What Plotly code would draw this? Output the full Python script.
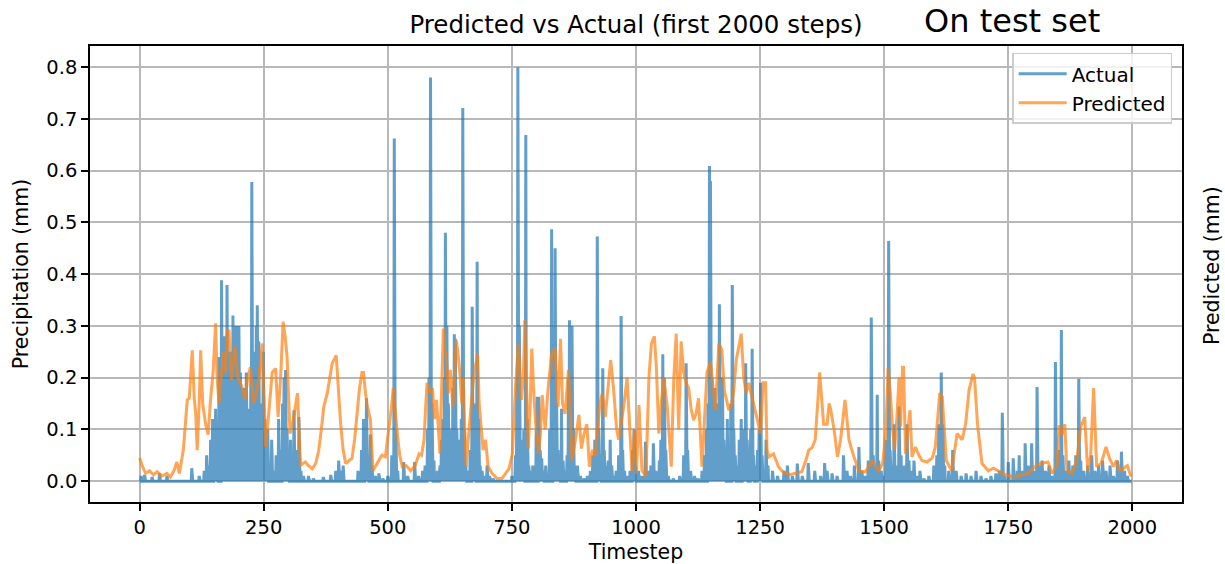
import numpy as np
import plotly.graph_objects as go

# ---------------- data ----------------
N_STEPS = 2000

# Actual precipitation: spike positions (timestep) and heights; baseline is 0
actual_t = [3, 10, 25, 40, 55, 105, 120, 130, 135, 140, 143, 147, 150, 153, 156, 160, 162, 165, 168, 171,
            174, 176, 179, 182, 185, 188, 191, 194, 197, 200, 203, 206, 209, 212, 215, 218, 221, 224, 226, 229,
            232, 235, 237, 240, 243, 246, 249, 252, 255, 258, 262, 266, 270, 275, 280, 284, 288, 291, 294, 297,
            300, 304, 308, 311, 315, 318, 321, 325, 330, 340, 350, 370, 385, 395, 401, 405, 410,
            440, 447, 451, 454, 457, 460, 465, 468, 475, 482, 490, 500, 508, 513, 516, 520, 532, 540, 554, 562,
            570, 575, 580, 583, 586, 589, 593, 600, 605, 608, 611, 614, 616, 619, 622, 625, 628, 631, 634, 636,
            639, 642, 645, 648, 651, 654, 657, 662, 666, 670, 673, 676, 680, 683, 686, 690, 695, 700, 705, 712,
            750, 757, 760, 762, 765, 768, 771, 774, 778, 781, 784, 788, 792, 795, 799, 801, 804, 807, 810, 813,
            818, 822, 826, 830, 833, 835, 837, 840, 843, 846, 850, 853, 857, 861, 864, 866, 869, 871, 874, 877,
            882, 888, 895, 902, 908, 913, 917, 922, 925, 928, 933, 936, 940, 944, 948, 951, 955, 960, 965, 970,
            973, 977, 982, 988, 993, 996, 999,
            1005, 1012, 1019, 1024, 1030, 1035, 1040, 1047, 1050, 1054, 1057, 1060, 1065, 1075, 1088, 1096, 1101,
            1104, 1110, 1118, 1125, 1133, 1138, 1142, 1145, 1148, 1150, 1153, 1156, 1159, 1162, 1165, 1168, 1171,
            1174, 1177, 1180, 1184, 1187, 1191, 1194, 1197, 1200, 1204, 1208, 1212, 1215, 1218, 1221, 1224, 1228,
            1231, 1234, 1237, 1241, 1245, 1248, 1251, 1254, 1258, 1262, 1266,
            1275, 1285, 1298, 1305, 1315, 1325, 1335, 1347, 1360, 1372, 1380, 1385, 1395, 1405, 1418, 1425, 1432,
            1440, 1449, 1455, 1462, 1468, 1474, 1478, 1482, 1486, 1489, 1494, 1500, 1504, 1509, 1512, 1516, 1520,
            1524, 1530, 1534, 1540, 1546, 1550, 1555, 1560, 1566, 1572, 1580, 1590, 1600, 1606, 1610, 1615, 1618,
            1622, 1630, 1638, 1645, 1655, 1665, 1675, 1685, 1695, 1705, 1715, 1725, 1732, 1738, 1742, 1750, 1760,
            1768, 1772, 1778, 1784, 1790, 1797, 1802, 1808, 1812, 1818, 1825, 1832, 1838, 1845, 1849, 1853, 1857,
            1860, 1866, 1872, 1880, 1886, 1892, 1896, 1902, 1910, 1918, 1925, 1932, 1940, 1947, 1955, 1962, 1970,
            1978, 1984, 1990]
actual_v = [0.01, 0.012, 0.008, 0.015, 0.01, 0.025, 0.01, 0.02, 0.05, 0.03, 0.08, 0.12, 0.06, 0.14, 0.10, 0.24, 0.15, 0.388, 0.20, 0.28,
            0.12, 0.379, 0.18, 0.25, 0.10, 0.32, 0.20, 0.30, 0.15, 0.30, 0.21, 0.12, 0.18, 0.08, 0.21, 0.14, 0.05, 0.20, 0.578, 0.25,
            0.10, 0.30, 0.34, 0.27, 0.15, 0.08, 0.25, 0.12, 0.05, 0.10, 0.03, 0.08, 0.02, 0.05, 0.12, 0.06, 0.15, 0.20, 0.215, 0.10,
            0.05, 0.08, 0.02, 0.137, 0.06, 0.03, 0.124, 0.02, 0.01, 0.01, 0.005, 0.008, 0.012, 0.02, 0.04, 0.02, 0.03,
            0.02, 0.06, 0.12, 0.08, 0.16, 0.05, 0.09, 0.03, 0.01, 0.015, 0.005, 0.01, 0.05, 0.662, 0.10, 0.02, 0.037, 0.01, 0.037, 0.01,
            0.02, 0.03, 0.10, 0.20, 0.78, 0.15, 0.04, 0.02, 0.03, 0.08, 0.12, 0.20, 0.48, 0.30, 0.15, 0.10, 0.04, 0.18, 0.284, 0.275,
            0.10, 0.05, 0.08, 0.12, 0.721, 0.10, 0.03, 0.02, 0.06, 0.337, 0.10, 0.15, 0.424, 0.12, 0.03, 0.02, 0.01, 0.03, 0.01, 0.005,
            0.01, 0.05, 0.20, 0.80, 0.30, 0.08, 0.04, 0.10, 0.669, 0.12, 0.03, 0.02, 0.03, 0.02, 0.10, 0.163, 0.163, 0.06, 0.044, 0.02,
            0.03, 0.01, 0.10, 0.487, 0.20, 0.30, 0.45, 0.15, 0.06, 0.03, 0.14, 0.04, 0.02, 0.05, 0.20, 0.311, 0.20, 0.30, 0.10, 0.03,
            0.03, 0.01, 0.005, 0.01, 0.02, 0.05, 0.08, 0.473, 0.10, 0.05, 0.218, 0.06, 0.03, 0.04, 0.08, 0.03, 0.01, 0.02, 0.05, 0.319,
            0.06, 0.02, 0.01, 0.02, 0.06, 0.10, 0.03,
            0.02, 0.01, 0.076, 0.02, 0.03, 0.073, 0.02, 0.04, 0.08, 0.245, 0.20, 0.06, 0.01, 0.005, 0.01, 0.05, 0.228,
            0.06, 0.02, 0.01, 0.005, 0.02, 0.05, 0.10, 0.15, 0.609, 0.58, 0.20, 0.12, 0.18, 0.08, 0.15, 0.342, 0.12,
            0.20, 0.08, 0.05, 0.12, 0.06, 0.15, 0.379, 0.10, 0.05, 0.03, 0.08, 0.12, 0.05, 0.10, 0.228, 0.08, 0.03,
            0.10, 0.256, 0.05, 0.03, 0.06, 0.10, 0.19, 0.05, 0.02, 0.08, 0.03,
            0.02, 0.01, 0.02, 0.03, 0.01, 0.034, 0.01, 0.035, 0.02, 0.01, 0.035, 0.02, 0.015, 0.01, 0.05, 0.02, 0.01,
            0.03, 0.066, 0.02, 0.01, 0.04, 0.316, 0.05, 0.03, 0.167, 0.04, 0.02, 0.01, 0.08, 0.464, 0.06, 0.03, 0.11,
            0.03, 0.144, 0.05, 0.03, 0.11, 0.04, 0.02, 0.04, 0.01, 0.02, 0.005, 0.01, 0.03, 0.05, 0.11, 0.21, 0.11,
            0.03, 0.02, 0.06, 0.02, 0.01, 0.015, 0.01, 0.02, 0.01, 0.005, 0.01, 0.015, 0.02, 0.132, 0.01, 0.037, 0.044,
            0.02, 0.05, 0.02, 0.073, 0.03, 0.073, 0.02, 0.182, 0.03, 0.04, 0.02, 0.03, 0.01, 0.23, 0.04, 0.06, 0.292,
            0.05, 0.02, 0.04, 0.03, 0.05, 0.198, 0.04, 0.02, 0.03, 0.05, 0.02, 0.03, 0.04, 0.02, 0.03, 0.01, 0.04,
            0.057, 0.02, 0.01]

# Predicted precipitation: readings (timestep, value)
pred_t = [0, 5, 12, 20, 28, 35, 45, 55, 62, 69, 75, 80, 88, 93, 96, 100, 106, 110, 113, 116, 120, 123, 127, 133, 138,
          143, 148, 153, 156, 160, 165, 170, 173, 177, 180, 185, 192, 198, 203, 207, 212, 218, 223, 230, 235, 240,
          247, 251, 254, 260, 267, 274, 279, 284, 289, 293, 297, 303, 308, 313, 318, 324, 334, 340, 348, 355, 361,
          366, 371, 378, 383, 388, 396, 400, 405, 410, 415, 422, 428, 433, 438, 443, 448, 451, 455, 458, 465, 470,
          476, 482, 488, 495, 502, 507, 511, 515, 519, 524, 529, 537, 546, 555, 563, 568, 573, 576, 579, 584, 590,
          594, 598, 602, 605, 609, 612, 615, 618, 622, 626, 631, 634, 638, 641, 645, 649, 652, 655, 658, 662, 666,
          670, 674, 681, 684, 688, 692, 697, 702, 710, 720, 730, 738, 744, 751, 757, 763, 766, 769, 773, 776, 779,
          783, 787, 790, 794, 798, 804, 808, 811, 817, 823, 830, 837, 840, 843, 848, 852, 857, 864, 868, 871, 878,
          885, 890, 895, 901, 906, 912, 918, 927, 932, 938, 944, 949, 955, 961, 965, 971, 976, 982, 986, 992, 997,
          1001, 1006, 1012, 1020, 1026, 1031, 1037, 1041, 1046, 1051, 1056, 1063, 1071, 1076, 1081, 1086, 1091,
          1096, 1101, 1106, 1111, 1116, 1121, 1126, 1133, 1138, 1143, 1150, 1155, 1160, 1167, 1173, 1178, 1183,
          1187, 1193, 1197, 1202, 1207, 1212, 1217, 1222, 1227, 1232, 1237, 1244, 1251, 1256, 1261, 1264, 1268,
          1277, 1287, 1294, 1301, 1311, 1321, 1334, 1342, 1348, 1355, 1361, 1366, 1370, 1374, 1378, 1385, 1389,
          1392, 1396, 1399, 1406, 1412, 1417, 1421, 1425, 1429, 1435, 1439, 1449, 1462, 1470, 1476, 1482, 1489,
          1497, 1503, 1508, 1513, 1517, 1521, 1526, 1530, 1533, 1537, 1539, 1543, 1548, 1552, 1556, 1563, 1570,
          1576, 1586, 1597, 1603, 1606, 1612, 1617, 1620, 1625, 1636, 1647, 1657, 1664, 1671, 1679, 1682, 1688,
          1697, 1710, 1720, 1734, 1745, 1761, 1775, 1790, 1800, 1808, 1815, 1830, 1838, 1848, 1853, 1858, 1864,
          1868, 1878, 1888, 1896, 1904, 1910, 1916, 1922, 1928, 1937, 1947, 1954, 1962, 1968, 1975, 1985, 1990,
          1996, 1999]
pred_v = [0.045, 0.03, 0.015, 0.02, 0.012, 0.018, 0.01, 0.015, 0.008, 0.02, 0.037, 0.015, 0.06, 0.13, 0.157, 0.16, 0.253,
          0.16, 0.13, 0.06, 0.15, 0.253, 0.15, 0.11, 0.09, 0.16, 0.21, 0.305, 0.20, 0.15, 0.21, 0.25, 0.21, 0.29, 0.29,
          0.195, 0.26, 0.20, 0.19, 0.18, 0.157, 0.20, 0.22, 0.15, 0.17, 0.195, 0.266, 0.15, 0.066, 0.13, 0.21, 0.218,
          0.124, 0.20, 0.308, 0.28, 0.24, 0.092, 0.11, 0.14, 0.17, 0.031, 0.037, 0.03, 0.024, 0.035, 0.06, 0.10, 0.144,
          0.17, 0.20, 0.228, 0.243, 0.18, 0.11, 0.06, 0.034, 0.04, 0.044, 0.08, 0.13, 0.18, 0.21, 0.21, 0.17, 0.15,
          0.118, 0.02, 0.03, 0.04, 0.05, 0.047, 0.10, 0.14, 0.18, 0.13, 0.092, 0.05, 0.028, 0.03, 0.02, 0.03, 0.053,
          0.05, 0.08, 0.14, 0.19, 0.17, 0.18, 0.12, 0.157, 0.10, 0.053, 0.20, 0.295, 0.25, 0.24, 0.17, 0.215, 0.144,
          0.20, 0.272, 0.25, 0.21, 0.15, 0.20, 0.10, 0.028, 0.08, 0.13, 0.17, 0.21, 0.245, 0.15, 0.10, 0.06, 0.08,
          0.028, 0.015, 0.005, 0.005, 0.015, 0.024, 0.053, 0.178, 0.265, 0.20, 0.157, 0.20, 0.311, 0.20, 0.063, 0.15,
          0.256, 0.17, 0.11, 0.053, 0.10, 0.166, 0.10, 0.18, 0.245, 0.256, 0.20, 0.144, 0.275, 0.15, 0.13, 0.215,
          0.12, 0.04, 0.08, 0.128, 0.063, 0.09, 0.11, 0.028, 0.06, 0.05, 0.147, 0.17, 0.124, 0.18, 0.234, 0.176, 0.10,
          0.08, 0.118, 0.15, 0.20, 0.12, 0.02, 0.10,
          0.015, 0.147, 0.02, 0.01, 0.20, 0.266, 0.28, 0.22, 0.092, 0.15, 0.20, 0.144, 0.028, 0.195, 0.285, 0.10,
          0.27, 0.21, 0.19, 0.18, 0.14, 0.118, 0.13, 0.16, 0.028, 0.12, 0.21, 0.23, 0.18, 0.137, 0.266, 0.253, 0.176,
          0.15, 0.137, 0.15, 0.176, 0.234, 0.26, 0.285, 0.20, 0.17, 0.19, 0.17, 0.144, 0.12, 0.092, 0.19, 0.19, 0.06,
          0.047, 0.053, 0.028, 0.02, 0.015, 0.013, 0.015, 0.018, 0.04, 0.06, 0.065, 0.08, 0.15, 0.21, 0.16, 0.11,
          0.11, 0.15, 0.14, 0.12, 0.10, 0.047, 0.08, 0.12, 0.157, 0.12, 0.08, 0.06, 0.047, 0.02, 0.018, 0.03, 0.04,
          0.03, 0.02, 0.034, 0.09, 0.218, 0.163, 0.10, 0.06, 0.13, 0.20, 0.105, 0.22, 0.22, 0.053, 0.10, 0.137,
          0.047, 0.066, 0.05, 0.04, 0.037, 0.045, 0.066, 0.105, 0.17, 0.163, 0.12, 0.04, 0.02, 0.092, 0.08, 0.11,
          0.176, 0.207, 0.20, 0.11, 0.034, 0.02, 0.025, 0.018, 0.012, 0.008, 0.012, 0.015, 0.025, 0.031, 0.034,
          0.037, 0.015, 0.03, 0.108, 0.09, 0.11, 0.02, 0.015, 0.04, 0.105, 0.124, 0.02, 0.05, 0.18, 0.028, 0.034,
          0.066, 0.044, 0.028, 0.04, 0.02, 0.027, 0.03, 0.012, 0.01]

x_ticks = [0, 250, 500, 750, 1000, 1250, 1500, 1750, 2000]
y_ticks = [0.0, 0.1, 0.2, 0.3, 0.4, 0.5, 0.6, 0.7, 0.8]
y_tick_labels = ["0.0", "0.1", "0.2", "0.3", "0.4", "0.5", "0.6", "0.7", "0.8"]

# full actual series from the read spikes (baseline 0 elsewhere)
actual = np.zeros(N_STEPS)
actual[np.array(actual_t)] = np.array(actual_v)
steps = np.arange(N_STEPS)

# ---------------- figure ----------------
FONT = "DejaVu Sans"
fig = go.Figure()
fig.add_trace(go.Scatter(x=steps, y=actual, mode="lines", name="Actual",
                         line=dict(color="#1f77b4", width=3), opacity=0.7))
fig.add_trace(go.Scatter(x=pred_t, y=pred_v, mode="lines", name="Predicted",
                         line=dict(color="#ff7f0e", width=3), opacity=0.7))

axis_common = dict(showgrid=True, gridcolor="#b8b8b8", gridwidth=1.6,
                   showline=True, linecolor="black", linewidth=1.6, mirror=True,
                   ticks="outside", ticklen=7, tickwidth=1.6, tickcolor="black",
                   tickfont=dict(family=FONT, size=19.5, color="black"),
                   zeroline=False)

fig.update_xaxes(range=[-100, 2100], tickmode="array", tickvals=x_ticks,
                 ticktext=[str(v) for v in x_ticks],
                 title=dict(text="Timestep", font=dict(family=FONT, size=20.5, color="black"), standoff=12),
                 **axis_common)
fig.update_yaxes(range=[-0.0403, 0.8409], tickmode="array", tickvals=y_ticks, ticktext=y_tick_labels,
                 title=dict(text="Precipitation (mm)", font=dict(family=FONT, size=20.5, color="black"), standoff=12),
                 **axis_common)

fig.update_layout(
    width=1225, height=564,
    margin=dict(l=90, r=43, t=46, b=62, autoexpand=False),
    paper_bgcolor="white", plot_bgcolor="white",
    font=dict(family=FONT, color="black"),
    title=dict(text="Predicted vs Actual (first 2000 steps)", x=0.5, xref="paper",
               y=1 - 24 / 564, yref="container", yanchor="middle", xanchor="center",
               font=dict(family=FONT, size=24.5, color="black")),
    legend=dict(x=0.991, y=0.985, xanchor="right", yanchor="top",
                bgcolor="rgba(255,255,255,0.8)", bordercolor="#cccccc", borderwidth=1.5,
                itemwidth=48,
                font=dict(family=FONT, size=20, color="black"), tracegroupgap=0),
    showlegend=True,
    annotations=[
        dict(text="On test set", xref="paper", yref="paper", x=(1012 - 90) / 1092, y=1 + (46 - 1) / 456,
             xanchor="center", yanchor="top", showarrow=False, borderpad=0,
             font=dict(family=FONT, size=32, color="black")),
        dict(text="Predicted (mm)", xref="paper", yref="paper", x=(1212 - 90) / 1092, y=1 - (266 - 46) / 456,
             xanchor="center", yanchor="middle", textangle=-90, showarrow=False,
             font=dict(family=FONT, size=20.5, color="black")),
    ],
)

fig.write_html("out.html")
